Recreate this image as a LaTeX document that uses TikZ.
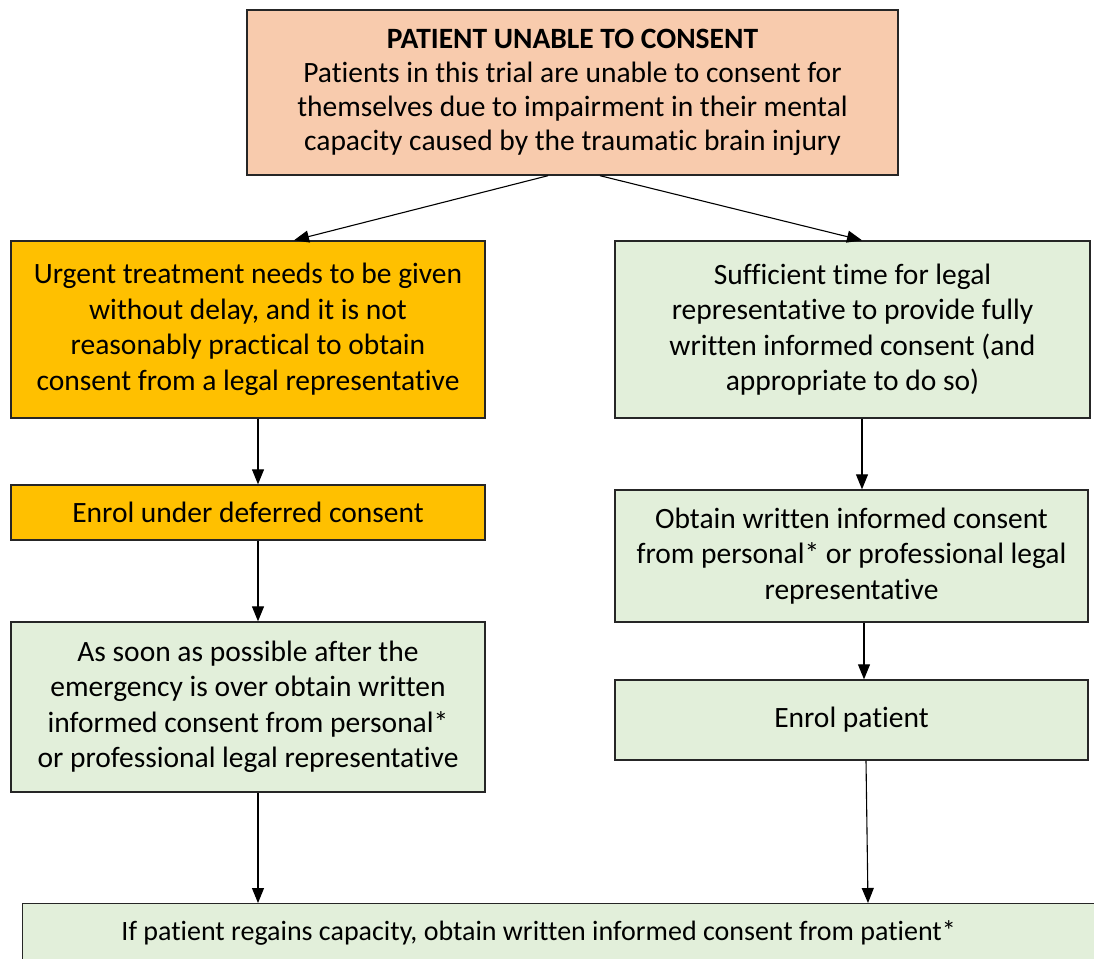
\documentclass[tikz,border=0pt]{standalone}
\usepackage{fontspec}
\setmainfont{Carlito}[Ligatures={NoCommon}]
\usetikzlibrary{positioning,calc,arrows.meta}

\definecolor{peach}{HTML}{F8CBAD}
\definecolor{amber}{HTML}{FFC000}
\definecolor{mint}{HTML}{E2EFDA}

\begin{document}
\begin{tikzpicture}[x=1pt,y=-1pt,
				box/.style={draw=black!85,line width=1.4pt,rectangle,align=center,inner sep=0pt,
					font=\fontsize{29.5pt}{35.5pt}\selectfont},
				flow/.style={line width=1.1pt,-{Triangle[length=15pt,width=12pt]}}]
				\useasboundingbox (0,0) rectangle (1094,958);
				\node (top)    [box,fill=peach,minimum width=651,minimum height=165,font=\fontsize{29.5pt}{34pt}\selectfont] at (572.5,92.5)
					{\textbf{PATIENT UNABLE TO CONSENT}\\Patients in this trial are unable to consent for\\themselves due to impairment in their mental\\capacity caused by the traumatic brain injury};
				\node (urgent) [box,fill=amber,minimum width=474,minimum height=177] at (248,329.5)
					{Urgent treatment needs to be given\\without delay, and it is not\\reasonably practical to obtain\\consent from a legal representative};
				\node (suff)   [box,fill=mint,minimum width=475,minimum height=177] at (852.5,329.5)
					{Sufficient time for legal\\representative to provide fully\\written informed consent (and\\appropriate to do so)};
				\node (defer)  [box,fill=amber,minimum width=474,minimum height=55] at (248,512.5)
					{Enrol under deferred consent};
				\node (obtain) [box,fill=mint,minimum width=473,minimum height=132] at (851.5,556)
					{Obtain written informed consent\\from personal* or professional legal\\representative};
				\node (asap)   [box,fill=mint,minimum width=474,minimum height=170] at (248,707)
					{As soon as possible after the\\emergency is over obtain written\\informed consent from personal*\\or professional legal representative};
				\node (enrol)  [box,fill=mint,minimum width=473,minimum height=80] at (851.5,720)
					{Enrol patient};
				\node (regain) [box,fill=mint,minimum width=1100,minimum height=58,anchor=north west,font=\fontsize{28pt}{34pt}\selectfont] at (22,903)
					{\makebox[1100pt][l]{\makebox[1032pt][c]{If patient regains capacity, obtain written informed consent from patient*}}};
				
				\draw[flow] ([xshift=-24.5pt]top.south) -- ([xshift=46pt]urgent.north);
				\draw[flow] ([xshift=27.5pt]top.south) -- ([xshift=9.5pt]suff.north);
				\draw[flow] ([xshift=10pt]urgent.south) -- ([xshift=10pt]defer.north);
				\draw[flow] ([xshift=10pt]defer.south) -- ([xshift=10pt]asap.north);
				\draw[flow] ([xshift=10pt]asap.south) -- ([xshift=10pt]asap.south |- regain.north);
				\draw[flow] ([xshift=9.5pt]suff.south) -- ([xshift=10.5pt]obtain.north);
				\draw[flow] ([xshift=12.5pt]obtain.south) -- ([xshift=12.5pt]enrol.north);
				\draw[flow] ([xshift=14.5pt]enrol.south) -- ([xshift=16.5pt]enrol.south |- regain.north);
			\end{tikzpicture}
\end{document}
